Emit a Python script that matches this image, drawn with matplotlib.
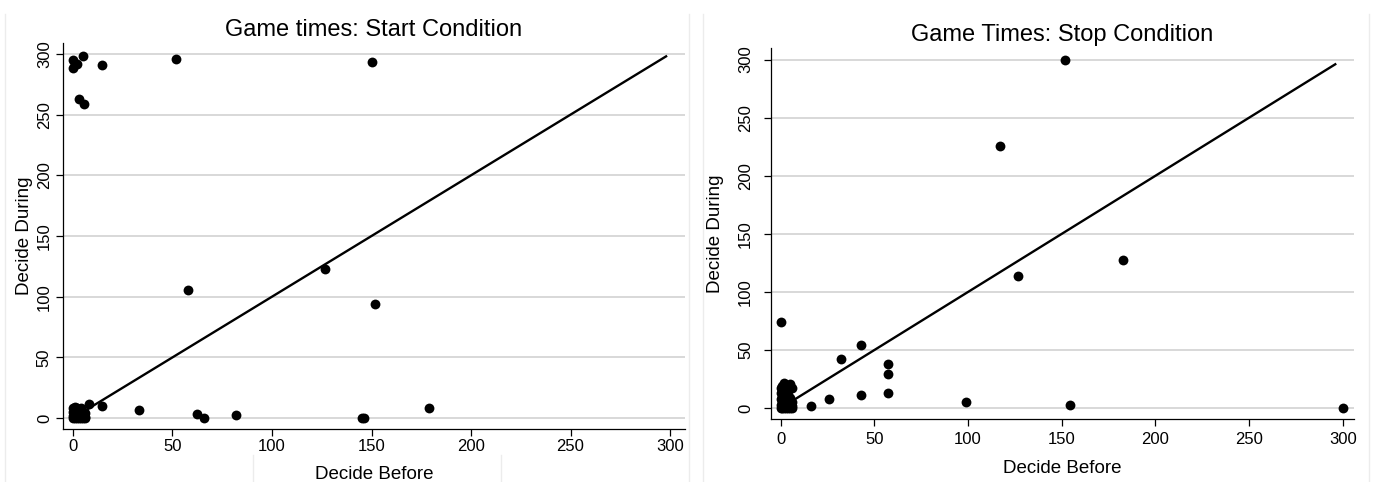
import matplotlib.pyplot as plt

plt.rcParams['font.family'] = ['Liberation Sans', 'DejaVu Sans']

# Start condition: decide before (x) vs decide during (y)
start_before = [0, 1, 2, 0, 5, 14.5, 52, 3, 5.5, 150,
                126.6, 57.6, 152, 8, 14.6, 33, 62.2, 65.8, 82, 145, 146.4, 179,
                0, 1, 2, 3, 4, 5, 6, 0, 1, 2, 3, 4, 5, 6, 0, 1, 2, 3, 4, 5,
                0, 1, 2, 3, 4, 6]
start_during = [295, 292, 292, 288, 298, 291, 296, 263, 259, 293.5,
                122.8, 105.5, 93.7, 11.8, 9.6, 6.9, 3.3, 0, 2.2, 0, 0, 8.5,
                0, 0, 0, 0, 0, 0, 0, 2, 3, 1, 2, 3, 2, 1, 5, 6, 4, 5, 6, 5,
                8, 9, 8, 7, 8, 4]

# Stop condition
stop_before = [152, 117, 126.5, 182.5, 0, 43, 32.4, 57.5, 57.5, 57.5,
               43, 25.7, 16, 99, 154.4, 300,
               0, 1, 2, 3, 4, 5, 6, 0, 1, 2, 3, 4, 5, 6, 0, 1, 2, 3, 4, 5, 6,
               0, 1, 2, 3, 4, 0, 2, 5, 6, 1, 3]
stop_during = [300, 226, 113.4, 127.8, 74, 54, 42.6, 37.7, 29, 13,
               11.3, 7.9, 1.5, 5, 2.8, 0,
               0, 0, 0, 0, 0, 0, 0, 3, 5, 2, 4, 3, 6, 2, 8, 10, 9, 7, 11, 9, 5,
               13, 15, 14, 12, 16, 17, 22, 21, 17, 19, 18]

# reference line y = x
start_line = [0, 298]
stop_line = [0, 296]

yticks = [0, 50, 100, 150, 200, 250, 300]

W, H = 1373, 482
fig = plt.figure(figsize=(W / 100, H / 100), dpi=100)

# faint panel frames
for xp in [5, 689, 703, 1369]:
    fig.add_artist(plt.Line2D([xp / W, xp / W], [0, 1 - 14 / H], color='#ececec', lw=1))
for xp in [253, 501]:
    fig.add_artist(plt.Line2D([xp / W, xp / W], [0, 1 - 455 / H], color='#ececec', lw=1))


def panel(box, title, xs, ys, line, xlim, ylim, xpad, ypad, xlpad, ylpad):
    x0, y0, x1, y1 = box
    ax = fig.add_axes([x0 / W, 1 - y1 / H, (x1 - x0) / W, (y1 - y0) / H])
    ax.plot(line, line, color='black', lw=1.7, zorder=2)
    ax.scatter(xs, ys, s=50, color='black', linewidths=0, zorder=3, clip_on=False)
    ax.set_xlim(*xlim)
    ax.set_ylim(*ylim)
    ax.set_xticks(yticks)
    ax.set_yticks(yticks)
    ax.yaxis.grid(True, color='#d6d6d6', lw=1.3)
    ax.set_axisbelow(True)
    for s in ['top', 'right']:
        ax.spines[s].set_visible(False)
    for s in ['left', 'bottom']:
        ax.spines[s].set_linewidth(0.9)
    ax.tick_params(direction='out', length=5, width=0.9, labelsize=12)
    ax.tick_params(axis='x', pad=xpad)
    ax.tick_params(axis='y', pad=ypad)
    for lab in ax.get_yticklabels():
        lab.set_rotation(90)
        lab.set_va('center')
    ax.set_title(title, fontsize=17, pad=5)
    ax.set_xlabel('Decide Before', fontsize=13.5, labelpad=xlpad)
    ax.set_ylabel('Decide During', fontsize=13.5, labelpad=ylpad)
    return ax


panel((63, 43, 685, 429), 'Game times: Start Condition', start_before, start_during,
      start_line, (-5, 307.5), (-9, 309), 2.5, 3, 8, 3)
panel((771, 48, 1354, 419), 'Game Times: Stop Condition', stop_before, stop_during,
      stop_line, (-5.1, 306), (-9.3, 310), 4, 8, 9.5, 10)

fig.savefig('out.png', dpi=100)
